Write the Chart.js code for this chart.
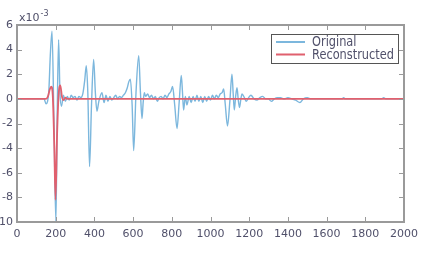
<!DOCTYPE html>
<html>
<head>
<meta charset="utf-8">
<script src="https://cdn.jsdelivr.net/npm/chart.js@4.4.0/dist/chart.umd.min.js"></script>
<style>
  html, body { margin: 0; padding: 0; background: #fff; }
</style>
</head>
<body>
<canvas id="signalChart" width="427" height="253"></canvas>
<script>
'use strict';

// sample positions / values (x10^-3)
var origX = [0, 140, 150, 158, 165, 172, 181, 191, 201, 208, 215, 222, 230, 240, 250, 260, 270, 280, 290, 300,
    310, 320, 330, 340, 350, 358, 366, 375, 385, 396, 405, 413, 423, 439, 450, 460, 470, 480, 490, 500,
    510, 520, 530, 540, 550, 560, 570, 578, 586, 595, 603, 615, 629, 638, 646, 652, 658, 665, 675, 685,
    695, 705, 715, 725, 735, 745, 755, 765, 775, 785, 795, 804, 815, 827, 838, 849, 855, 861, 870, 878,
    890, 900, 910, 920, 930, 940, 950, 960, 970, 980, 990, 1000, 1010, 1020, 1030, 1040, 1050, 1060, 1068, 1076,
    1088, 1100, 1111, 1117, 1123, 1130, 1137, 1143, 1150, 1157, 1163, 1175, 1185, 1197, 1209, 1225, 1240, 1255, 1270, 1285,
    1298, 1315, 1330, 1345, 1362, 1380, 1400, 1420, 1440, 1462, 1480, 1500, 1520, 1680, 1688, 1696, 1885, 1895, 1905, 2000];
var origY = [0, 0, -0.4, -0.2, 0.8, 3.5, 5.5, -2, -10, -1, 4.8, 0.5, -0.6, 0.3, -0.2, 0.2, -0.1, 0.3, 0.1, 0.2,
    -0.1, 0.2, 0.1, 0.4, 1.5, 2.7, 0.5, -5.5, -0.5, 3.2, 0.5, -1.0, -0.2, 0.5, -0.3, 0.3, -0.2, 0.2, -0.1, 0.1,
    0.3, 0.0, 0.2, 0.1, 0.3, 0.5, 0.9, 1.4, 1.6, -0.5, -4.2, 0.5, 3.5, 0.5, -1.6, -0.3, 0.5, 0.2, 0.4, 0.1,
    0.3, 0.0, 0.2, -0.2, 0.1, 0.2, 0.0, 0.3, 0.1, 0.4, 0.6, 1.0, -0.5, -2.4, -0.3, 1.9, 0.6, -0.9, 0.2, -0.5,
    0.2, -0.3, 0.2, -0.2, 0.3, -0.2, 0.2, -0.3, 0.2, -0.2, 0.2, -0.1, 0.3, 0.0, 0.3, 0.1, 0.4, 0.5, 0.8, -0.4,
    -2.2, -0.2, 2.0, 0.5, -0.9, 0.2, 0.9, 0.0, -0.7, 0.0, 0.4, 0.1, -0.2, 0.1, 0.3, 0.0, -0.1, 0.1, 0.2, 0.0,
    0.0, -0.2, 0.0, 0.1, 0.1, 0.0, 0.1, 0.0, -0.1, -0.3, 0.0, 0.1, 0, 0, 0.1, 0, 0, 0.1, 0, 0];

var recX = [0, 150, 160, 170, 177, 185, 193, 199, 207, 215, 224, 232, 240, 250, 260, 2000];
var recY = [0, 0, 0.2, 0.8, 1.0, 0.2, -4, -8.2, -3, 0.3, 1.1, 0.2, -0.1, 0.1, 0, 0];

var xTicks = [0, 200, 400, 600, 800, 1000, 1200, 1400, 1600, 1800, 2000];
var yTicks = [6, 4, 2, 0, -2, -4, -6, -8, -10];

var blue = '#7cb7dd';
var red = '#e0606e';
var textColor = '#50506a';
var frameColor = '#9a9a9a';

function toPoints(xs, ys) {
    return xs.map(function (x, i) { return { x: x, y: ys[i] }; });
}

// frame, inward ticks, exponent label and legend box
var decorations = {
    id: 'decorations',
    afterDraw: function (chart) {
        var ctx = chart.ctx, a = chart.chartArea;
        var sx = chart.scales.x, sy = chart.scales.y;
        var L = Math.round(a.left), R = Math.round(a.right), T = Math.round(a.top), B = Math.round(a.bottom);
        ctx.save();
        ctx.fillStyle = frameColor;
        ctx.fillRect(L - 1, T - 1, R - L + 2, 2);
        ctx.fillRect(L - 1, B - 1, R - L + 2, 2);
        ctx.fillRect(L - 1, T - 1, 2, B - T + 2);
        ctx.fillRect(R - 1, T - 1, 2, B - T + 2);
        xTicks.forEach(function (v) {
            var px = Math.round(sx.getPixelForValue(v));
            ctx.fillRect(px, B - 5, 1, 5);
            ctx.fillRect(px, T, 1, 5);
        });
        yTicks.forEach(function (v) {
            var py = Math.round(sy.getPixelForValue(v));
            ctx.fillRect(L, py, 5, 1);
            ctx.fillRect(R - 5, py, 5, 1);
        });

        // x10^-3
        ctx.fillStyle = textColor;
        ctx.textBaseline = 'alphabetic';
        ctx.textAlign = 'left';
        ctx.font = '11px "DejaVu Sans"';
        ctx.fillText('x10', 19, 21);
        var w = ctx.measureText('x10').width;
        ctx.font = '8px "DejaVu Sans"';
        ctx.fillText('-3', 19 + w + 1, 16);

        // legend
        var lx = 271, ly = 34, lw = 127, lh = 29;
        ctx.fillStyle = '#fff';
        ctx.fillRect(lx, ly, lw, lh);
        ctx.fillStyle = '#555';
        ctx.fillRect(lx, ly, lw, 1);
        ctx.fillRect(lx, ly + lh, lw + 1, 1);
        ctx.fillRect(lx, ly, 1, lh);
        ctx.fillRect(lx + lw, ly, 1, lh);
        ctx.font = '14px "DejaVu Sans"';
        ctx.textBaseline = 'middle';
        var k = 82 / ctx.measureText('Reconstructed').width;
        chart.data.datasets.slice().reverse().forEach(function (ds, i) {
            var yy = 42 + i * 12.5;
            ctx.fillStyle = ds.borderColor;
            ctx.fillRect(276, yy - 1, 29, 2);
            ctx.fillStyle = textColor;
            ctx.save();
            ctx.translate(312, yy + 0.5);
            ctx.scale(k, 1);
            ctx.fillText(ds.label, 0, 0);
            ctx.restore();
        });
        ctx.restore();
    }
};

var chart = new Chart(document.getElementById('signalChart'), {
    type: 'line',
    data: {
        datasets: [
            {
                label: 'Reconstructed',
                data: toPoints(recX, recY),
                borderColor: red,
                borderWidth: 1.8,
                pointRadius: 0,
                cubicInterpolationMode: 'monotone',
                order: 0
            },
            {
                label: 'Original',
                data: toPoints(origX, origY),
                borderColor: blue,
                borderWidth: 1.4,
                pointRadius: 0,
                cubicInterpolationMode: 'monotone',
                order: 1
            }
        ]
    },
    options: {
        responsive: false,
        animation: false,
        layout: { padding: { top: 25, right: 23, left: 0, bottom: 0 } },
        plugins: {
            legend: { display: false },
            tooltip: { enabled: false }
        },
        scales: {
            x: {
                type: 'linear',
                min: 0,
                max: 2000,
                grid: { display: false, drawTicks: false },
                border: { display: false },
                afterBuildTicks: function (scale) {
                    scale.ticks = xTicks.map(function (v) { return { value: v }; });
                },
                afterFit: function (scale) { scale.height = 31; },
                ticks: {
                    padding: 6,
                    maxRotation: 0,
                    autoSkip: false,
                    color: textColor,
                    font: { family: 'DejaVu Sans', size: 11 },
                    callback: function (v) { return String(v); }
                }
            },
            y: {
                type: 'linear',
                min: -10,
                max: 6,
                grid: { display: false, drawTicks: false },
                border: { display: false },
                afterBuildTicks: function (scale) {
                    scale.ticks = yTicks.map(function (v) { return { value: v }; });
                },
                afterFit: function (scale) { scale.width = 17; },
                ticks: {
                    padding: 4,
                    autoSkip: false,
                    color: textColor,
                    font: { family: 'DejaVu Sans', size: 11 },
                    callback: function (v) { return String(v); }
                }
            }
        }
    },
    plugins: [decorations]
});
</script>
</body>
</html>
